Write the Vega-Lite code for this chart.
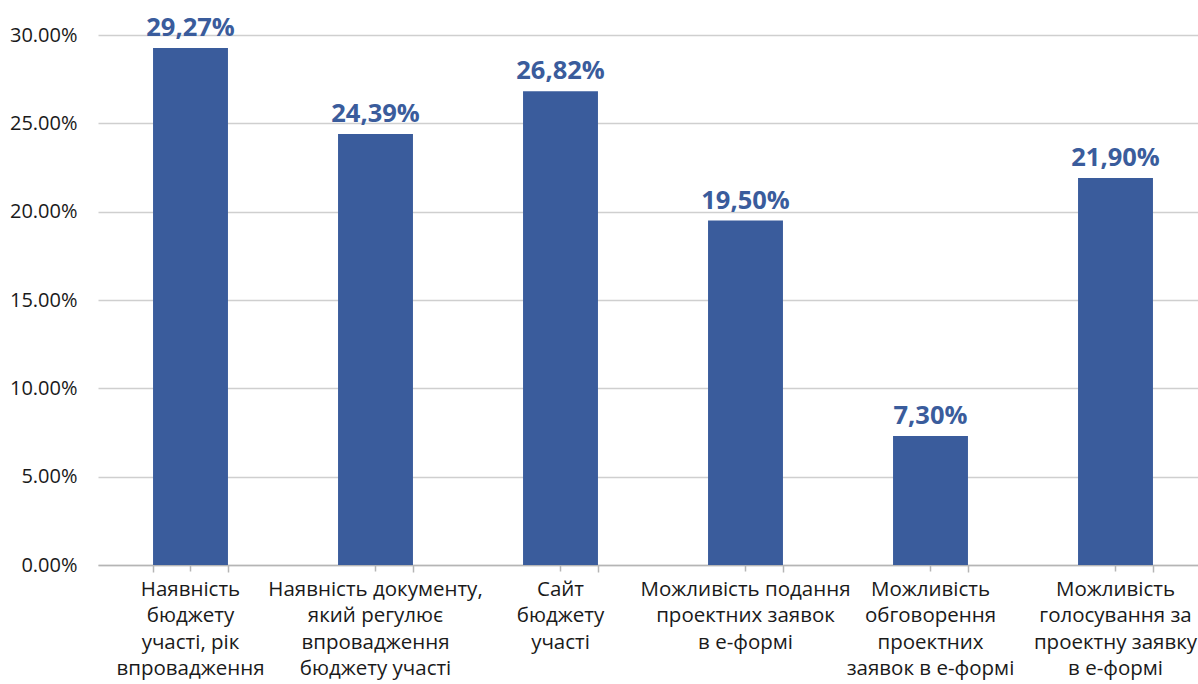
{
  "$schema": "https://vega.github.io/schema/vega-lite/v6.json",
  "autosize": {"type": "none"},
  "padding": {"left": 98, "top": 35, "right": 0, "bottom": 119},
  "width": 1100,
  "height": 530,
  "background": "white",
  "data": {
    "values": [
      {"cat": "Наявність|бюджету|участі, рік|впровадження", "value": 0.2927, "label": "29,27%"},
      {"cat": "Наявність документу,|який регулює|впровадження|бюджету участі", "value": 0.2439, "label": "24,39%"},
      {"cat": "Сайт|бюджету|участі", "value": 0.2682, "label": "26,82%"},
      {"cat": "Можливість подання|проектних заявок|в е-формі", "value": 0.195, "label": "19,50%"},
      {"cat": "Можливість|обговорення|проектних|заявок в е-формі", "value": 0.073, "label": "7,30%"},
      {"cat": "Можливість|голосування за|проектну заявку|в е-формі", "value": 0.219, "label": "21,90%"}
    ]
  },
  "encoding": {
    "x": {
      "field": "cat",
      "type": "nominal",
      "sort": null,
      "scale": {"range": [0, 1110], "paddingInner": 0.595, "paddingOuter": 0.2975},
      "title": null
    },
    "y": {
      "field": "value",
      "type": "quantitative",
      "scale": {"domain": [0, 0.3], "nice": false},
      "title": null,
      "axis": {
        "format": ".2%",
        "values": [0, 0.05, 0.1, 0.15, 0.2, 0.25, 0.3],
        "domain": false,
        "ticks": false,
        "grid": true,
        "gridColor": "#cfcfcf",
        "gridWidth": 1.5,
        "labelFont": "Open Sans",
        "labelFontSize": 20,
        "labelColor": "#1a1a1a",
        "labelPadding": 21
      }
    }
  },
  "layer": [
    {
      "mark": {"type": "bar", "color": "#3A5C9C"},
      "encoding": {
        "x": {
          "field": "cat",
          "type": "nominal",
          "sort": null,
          "title": null,
          "axis": {
            "orient": "bottom",
            "labelAngle": 0,
            "labelExpr": "split(datum.value, '|')",
            "labelFont": "Open Sans",
            "labelFontSize": 20.5,
            "labelColor": "#1a1a1a",
            "labelLineHeight": 26.5,
            "labelLimit": 0,
            "labelPadding": 8,
            "labelBaseline": "top",
            "domainColor": "#b5b5b5",
            "domainWidth": 1.5,
            "tickColor": "#b5b5b5",
            "tickWidth": 1.5,
            "tickSize": 6,
            "grid": false
          }
        }
      }
    },
    {
      "mark": {"type": "text", "font": "Open Sans", "fontSize": 25.5, "fontWeight": "bold", "color": "#3A5C9C", "baseline": "alphabetic", "dy": -12},
      "encoding": {
        "text": {"field": "label"},
        "x": {
          "field": "cat",
          "type": "nominal",
          "sort": null,
          "title": null,
          "axis": {
            "orient": "bottom",
            "labels": false,
            "domain": false,
            "tickBand": "extent",
            "tickColor": "#b5b5b5",
            "tickWidth": 1.5,
            "tickSize": 7,
            "grid": false
          }
        }
      }
    }
  ],
  "resolve": {"axis": {"x": "independent"}},
  "config": {"view": {"stroke": null}}
}
